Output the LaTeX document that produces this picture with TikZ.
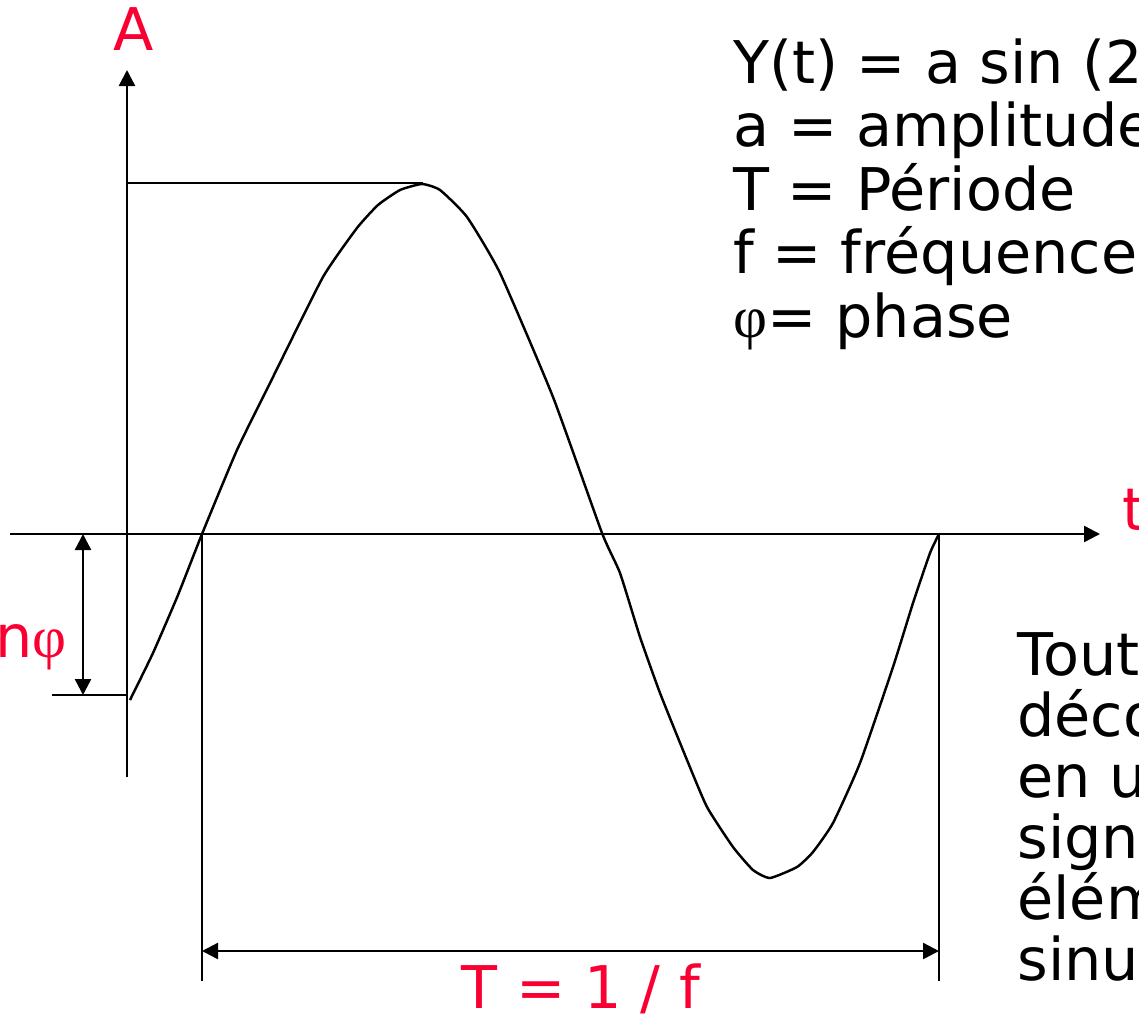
\documentclass[tikz,border=0pt]{standalone}
\usepackage{fontspec}
\setmainfont{DejaVu Sans}
\newfontfamily\greekfont{Liberation Serif}
\usetikzlibrary{arrows.meta}
\definecolor{labelred}{RGB}{250,0,50}
\tikzset{
  axis/.style={line width=1.4pt, -{Triangle[length=0.32cm,width=0.32cm]}},
  dimline/.style={line width=1.4pt, {Triangle[length=0.32cm,width=0.32cm]}-{Triangle[length=0.32cm,width=0.32cm]}},
  thin line/.style={line width=1.4pt},
  redlabel/.style={text=labelred, inner sep=0pt, font=\fontsize{33.5}{36}\selectfont},
  blacktext/.style={inner sep=0pt, anchor=base west, font=\fontsize{33.5}{36}\selectfont}
}
\begin{document}
\begin{tikzpicture}[x=0.02cm,y=-0.02cm]
  \useasboundingbox (0,0) rectangle (1139,1018);
  \clip (0,0) rectangle (1139,1018);

  % axes
  \coordinate (xstart) at (10,534);
  \coordinate (xend) at (1100,534);
  \coordinate (ystart) at (127,777);
  \coordinate (yend) at (127,70);
  \draw[axis] (xstart) -- (xend);
  \draw[axis] (ystart) -- (yend);
  \node[redlabel, anchor=base] (Alabel) at (134,50) {A};
  \node[redlabel, anchor=base west] (tlabel) at (1122,530) {t};

  % the sine
  \draw[thin line] plot[smooth, tension=0.3] coordinates {(130,700) (153,653) (178,595) (202,534) (237,450) (273,377) (323,277) (357,228) (378,205) (400,190) (422,184) (440,190) (467,217) (500,273) (553,397) (602,533) (620,573) (640,637) (660,693) (687,760) (707,807) (733,847) (753,870) (770,878) (797,867) (813,852) (833,823) (860,763) (893,667) (913,603) (930,553) (939,534)};

  % amplitude and phase marks
  \coordinate (peakleft) at (127,183);
  \coordinate (peak) at (423,183);
  \draw[thin line] (peakleft) -- (peak);
  \coordinate (phaseleft) at (52,695);
  \coordinate (phaseright) at (127,695);
  \draw[thin line] (phaseleft) -- (phaseright);
  \coordinate (phasetop) at (83,534);
  \coordinate (phasebot) at (83,695);
  \draw[dimline] (phasetop) -- (phasebot);
  \node[redlabel, anchor=base east] (phaselabel) at (67,657) {n{\greekfont φ}};

  % period
  \coordinate (zeroA) at (202,534);
  \coordinate (zeroB) at (939,534);
  \coordinate (footA) at (202,981);
  \coordinate (footB) at (939,981);
  \draw[thin line] (zeroA) -- (footA);
  \draw[thin line] (zeroB) -- (footB);
  \coordinate (periodA) at (202,951);
  \coordinate (periodB) at (939,951);
  \draw[dimline] (periodA) -- (periodB);
  \node[redlabel, anchor=base] (periodlabel) at (581,1008) {T = 1 / f};

  % legend
  \foreach \txt [count=\i] in {{Y(t) = a sin (2}, {a = amplitude}, {T = Période}, {f = fréquence}, {{\greekfont φ}= phase}}
    \node[blacktext] (legend\i) at (733,19.5+63.5*\i) {\txt};
  \foreach \txt [count=\i] in {Tout, déco, {en u}, signa, élém, sinus}
    \node[blacktext] (note\i) at (1017,614+61*\i) {\txt};
\end{tikzpicture}
\end{document}
